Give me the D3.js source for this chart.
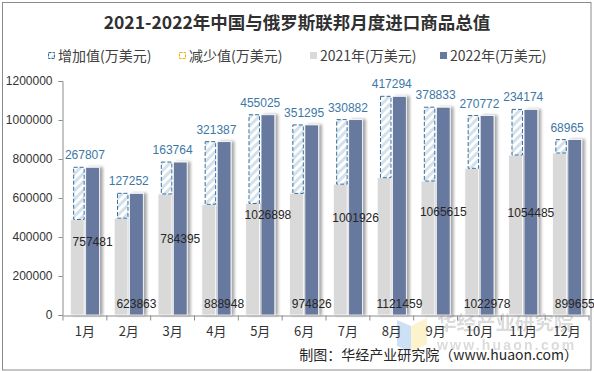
<!DOCTYPE html>
<meta charset="utf-8"/>
<head>
<style>
  body { margin:0; background:#fff; }
  svg { display:block; }
</style>
<script src="https://d3js.org/d3.v7.min.js"></script>
</head>
<body>
<script>
  // data (万美元)
  var months = ["1月","2月","3月","4月","5月","6月","7月","8月","9月","10月","11月","12月"];
  var v2021 = [489674, 496611, 620631, 567561, 571873, 623531, 671044, 704165, 686782, 752206, 820311, 830690];
  var v2022 = [757481, 623863, 784395, 888948, 1026898, 974826, 1001926, 1121459, 1065615, 1022978, 1054485, 899655];
  var increase = [267807, 127252, 163764, 321387, 455025, 351295, 330882, 417294, 378833, 270772, 234174, 68965];
  var decrease = [0, 0, 0, 0, 0, 0, 0, 0, 0, 0, 0, 0];
  var yTicks = [0, 200000, 400000, 600000, 800000, 1000000, 1200000];
  var legendNames = ["增加值(万美元)", "减少值(万美元)", "2021年(万美元)", "2022年(万美元)"];

  var width = 594, height = 372;
  var numFont = "'Liberation Sans', Arial, sans-serif";
  var cjkFont = "'Noto Sans CJK SC', sans-serif";

  var svg = d3.select("body").append("svg")
    .attr("width", width)
    .attr("height", height);

  var defs = svg.append("defs");
  var pat = defs.append("pattern")
    .attr("id", "hatch")
    .attr("patternUnits", "userSpaceOnUse")
    .attr("width", 6).attr("height", 6)
    .attr("patternTransform", "rotate(45)");
  pat.append("rect").attr("width", 6).attr("height", 6).attr("fill", "#fff");
  pat.append("rect").attr("width", 3).attr("height", 6).attr("fill", "#d3e1ec");

  var shadow = defs.append("filter").attr("id", "shadow")
    .attr("x", "-20%").attr("y", "-5%").attr("width", "160%").attr("height", "110%");
  shadow.append("feDropShadow")
    .attr("dx", 3).attr("dy", 0).attr("stdDeviation", 1.6)
    .attr("flood-color", "#000").attr("flood-opacity", 0.35);

  // outer border
  svg.append("rect")
    .attr("x", 2.5).attr("y", 2.5)
    .attr("width", 588.5).attr("height", 367.5)
    .attr("fill", "none").attr("stroke", "#8c8c8c");

  // title
  svg.append("text")
    .attr("x", 297).attr("y", 29)
    .attr("text-anchor", "middle")
    .style("font-family", cjkFont)
    .style("font-size", "17.5px")
    .style("font-weight", "bold")
    .attr("fill", "#303030")
    .text("2021-2022年中国与俄罗斯联邦月度进口商品总值");

  // scales
  var x = d3.scaleBand().domain(months).range([63, 589]).padding(0);
  var xs = d3.scaleBand().domain(["2021","2022"]).range([0, x.bandwidth()])
    .paddingInner(0.1).paddingOuter(0.48);
  var y = d3.scaleLinear().domain([0, 1200000]).range([315, 81]);

  // watermark
  var wm = svg.append("g").attr("opacity", 0.35);
  wm.append("polygon").attr("points", "397,320 411,326 411,352 397,346").attr("fill", "#6fa7e8");
  wm.append("polygon").attr("points", "411,326 427,318 427,344 411,352").attr("fill", "#f7dc6f");
  wm.append("text").attr("x", 437).attr("y", 330)
    .style("font-family", cjkFont).style("font-size", "19.5px").style("font-weight", "bold")
    .attr("fill", "#9a9a9a").text("华经产业研究院");
  wm.append("text").attr("x", 437).attr("y", 350)
    .style("font-family", numFont).style("font-size", "14px").style("font-weight", "bold")
    .style("letter-spacing", "2.2px")
    .attr("fill", "#9a9a9a").text("www.huaon.com");

  var g = svg.append("g");
  var idx = d3.range(months.length);

  // 2021 bars
  g.selectAll(".b21").data(idx).enter().append("rect")
    .attr("class", "b21")
    .attr("x", function(i){ return x(months[i]) + xs("2021"); })
    .attr("y", function(i){ return y(v2021[i]); })
    .attr("width", xs.bandwidth())
    .attr("height", function(i){ return y(0) - y(v2021[i]); })
    .attr("fill", "#d9d9d9")
    .attr("stroke", "#fff").attr("stroke-width", 0.8)
    .attr("filter", "url(#shadow)");

  // increase (hatched) bars on top of 2021
  var hOff = xs.bandwidth() * 0.24;
  g.selectAll(".inc").data(idx).enter().append("rect")
    .attr("class", "inc")
    .attr("x", function(i){ return x(months[i]) + xs("2021") + hOff; })
    .attr("y", function(i){ return y(v2021[i] + increase[i]); })
    .attr("width", xs.bandwidth() - hOff)
    .attr("height", function(i){ return y(v2021[i]) - y(v2021[i] + increase[i]); })
    .attr("fill", "url(#hatch)")
    .attr("stroke", "#3a6f99").attr("stroke-width", 1)
    .attr("stroke-dasharray", "4,2");

  // 2022 bars
  g.selectAll(".b22").data(idx).enter().append("rect")
    .attr("class", "b22")
    .attr("x", function(i){ return x(months[i]) + xs("2022"); })
    .attr("y", function(i){ return y(v2022[i]); })
    .attr("width", xs.bandwidth())
    .attr("height", function(i){ return y(0) - y(v2022[i]); })
    .attr("fill", "#67799f")
    .attr("stroke", "#fff").attr("stroke-width", 0.8)
    .attr("filter", "url(#shadow)");

  // increase labels
  g.selectAll(".incLab").data(idx).enter().append("text")
    .attr("x", function(i){ return x(months[i]) + x.bandwidth() / 2; })
    .attr("y", function(i){ return y(v2021[i] + increase[i]) - 8; })
    .attr("text-anchor", "middle")
    .style("font-family", numFont).style("font-size", "12px")
    .attr("fill", "#3d77a6")
    .text(function(i){ return increase[i]; });

  // 2022 value labels (alternating center / base)
  g.selectAll(".v22Lab").data(idx).enter().append("text")
    .attr("x", function(i){ return x(months[i]) + xs("2022") + xs.bandwidth() / 2; })
    .attr("y", function(i){ return i % 2 === 0 ? y(v2022[i] / 2) + 4.5 : y(0) - 7.5; })
    .attr("text-anchor", "middle")
    .style("font-family", numFont).style("font-size", "12px")
    .attr("fill", "#262626")
    .text(function(i){ return v2022[i]; });

  // axes
  var yAxis = svg.append("g")
    .attr("transform", "translate(62.5,0)")
    .call(d3.axisLeft(y).tickValues(yTicks).tickSize(4).tickPadding(6).tickFormat(d3.format("d")));
  yAxis.select(".domain").attr("stroke", "#8c8c8c");
  yAxis.selectAll(".tick line").attr("stroke", "#8c8c8c");
  yAxis.selectAll("text").style("font-family", numFont).style("font-size", "12px").attr("fill", "#333");

  var xAxis = svg.append("g")
    .attr("transform", "translate(0,315.5)")
    .call(d3.axisBottom(x).tickSize(0).tickPadding(11));
  xAxis.select(".domain").attr("stroke", "#8c8c8c");
  xAxis.selectAll("text").style("font-family", cjkFont).style("font-size", "13px").attr("fill", "#333");
  // category boundary ticks
  xAxis.selectAll(".sep").data(d3.range(months.length + 1)).enter().append("line")
    .attr("x1", function(i){ return x.range()[0] + i * x.step(); })
    .attr("x2", function(i){ return x.range()[0] + i * x.step(); })
    .attr("y1", 0).attr("y2", 5)
    .attr("stroke", "#8c8c8c");

  // legend
  var legX = [48, 179, 310, 440];
  var leg = svg.append("g");
  legendNames.forEach(function(name, k){
    var lg = leg.append("g").attr("transform", "translate(" + legX[k] + ",52)");
    if (k === 0) {
      lg.append("rect").attr("x", 0.5).attr("y", 0.5).attr("width", 6).attr("height", 6)
        .attr("fill", "url(#hatch)").attr("stroke", "#3a6f99").attr("stroke-dasharray", "3,1");
    } else if (k === 1) {
      lg.append("rect").attr("x", 0.5).attr("y", 0.5).attr("width", 6).attr("height", 6)
        .attr("fill", "#fff").attr("stroke", "#f2b200").attr("stroke-dasharray", "3,1");
    } else {
      lg.append("rect").attr("x", 0).attr("y", 0).attr("width", 7).attr("height", 7)
        .attr("fill", k === 2 ? "#d9d9d9" : "#67799f");
    }
    lg.append("text").attr("x", 10).attr("y", 9)
      .style("font-family", cjkFont).style("font-size", "14px")
      .attr("fill", "#404040")
      .text(name);
  });

  // source
  svg.append("text")
    .attr("x", 578).attr("y", 360)
    .attr("text-anchor", "end")
    .style("font-family", cjkFont).style("font-size", "14px")
    .attr("fill", "#262626")
    .text("制图：华经产业研究院（www.huaon.com）");
</script>
</body>
